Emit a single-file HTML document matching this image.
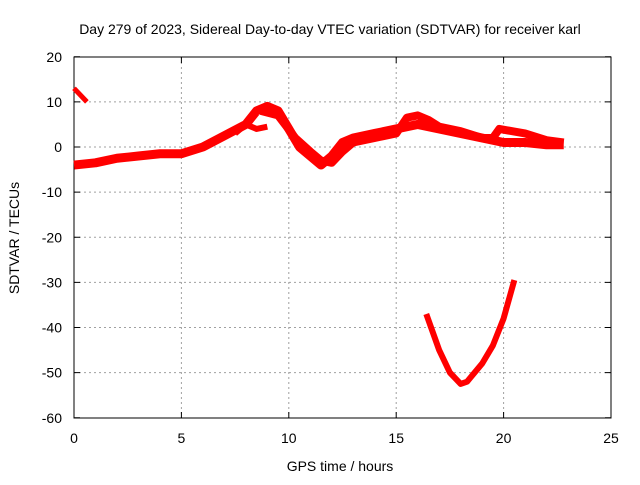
<!DOCTYPE html>
<html><head><meta charset="utf-8"><style>
body{margin:0;background:#fff}
svg text{font-family:"Liberation Sans",sans-serif;font-size:14px;fill:#000}
</style></head><body>
<svg width="640" height="480" viewBox="0 0 640 480">
<g id="grid"></g>
<rect x="74" y="57" width="537" height="361" fill="none" stroke="#000"/>
<g id="ticks"></g>
<g id="series"></g>
<text x="330" y="34" text-anchor="middle">Day 279 of 2023, Sidereal Day-to-day VTEC variation (SDTVAR) for receiver karl</text>
<text x="340" y="471" text-anchor="middle">GPS time / hours</text>
<text transform="translate(19,238) rotate(-90)" text-anchor="middle">SDTVAR / TECUs</text>
</svg>
<script>
const xTicks=[0,5,10,15,20,25];
const yTicks=[20,10,0,-10,-20,-30,-40,-50,-60];
const trackA=[[0,-4],[1,-3.5],[2,-2.5],[3,-2],[4,-1.5],[5,-1.5],[6,0],[7,2.5],[8,5],[8.5,8],[9,9],[9.5,8],[10,4],[10.5,0],[11,-2],[11.5,-4],[12,-2],[12.5,1],[13,2],[14,3],[15,4],[16,5],[17,4],[18,3],[19,2],[20,1],[21,1],[22,0.5],[22.8,0.5]];
const trackB=[[8.7,8],[9.5,7],[10.3,2],[11,-1],[11.5,-3],[12,-3.5],[12.5,-1],[13,1],[14,2],[15,3],[15.5,6.5],[16,7],[16.5,6],[17,4.5],[18,3.5],[19,2],[19.5,2],[19.8,4],[21,3],[22,1.5],[22.8,1]];
const trackC=[[7.5,3],[8,5],[8.5,4],[9,4.5]];
const trackD=[[0,13],[0.6,10]];
const trackE=[[16.4,-37],[17,-45],[17.5,-50],[18,-52.5],[18.3,-52],[19,-48],[19.5,-44],[20,-38],[20.5,-29.5]];
const X=h=>74+h*537/25, Y=v=>147-v*361/80;
const NS="http://www.w3.org/2000/svg";
const grid=document.getElementById('grid'),ticks=document.getElementById('ticks'),ser=document.getElementById('series');
function mk(t,a,p){const e=document.createElementNS(NS,t);for(const k in a)e.setAttribute(k,a[k]);p.appendChild(e);return e;}
xTicks.forEach(t=>{const x=X(t);
 if(t>0&&t<25){const g=mk('line',{x1:x,x2:x,y1:57,y2:418,stroke:'#a0a0a0','stroke-dasharray':'2,3'},grid);
 
 }
 mk('line',{x1:x,x2:x,y1:418,y2:412,stroke:'#000'},ticks);mk('line',{x1:x,x2:x,y1:57,y2:63,stroke:'#000'},ticks);
 const l=mk('text',{x:x,y:443,'text-anchor':'middle'},ticks);l.textContent=t;
 
 });
yTicks.forEach(t=>{const y=Y(t);
 if(t<20&&t>-60){const g=mk('line',{x1:74,x2:611,y1:y,y2:y,stroke:'#a0a0a0','stroke-dasharray':'2,3'},grid);
 
 }
 mk('line',{x1:74,x2:80,y1:y,y2:y,stroke:'#000'},ticks);mk('line',{x1:611,x2:605,y1:y,y2:y,stroke:'#000'},ticks);
 const l=mk('text',{x:62,y:y+5,'text-anchor':'end'},ticks);l.textContent=t;
 
 });
[[trackA,9],[trackB,8],[trackC,6],[trackD,5],[trackE,6]].forEach(([d,w],i)=>{
 const p=mk('polyline',{points:d.map(q=>X(q[0])+','+Y(q[1])).join(' '),fill:'none',stroke:'#f00','stroke-width':w,'stroke-linejoin':'round'},ser);
 
 });
</script>
</body></html>
